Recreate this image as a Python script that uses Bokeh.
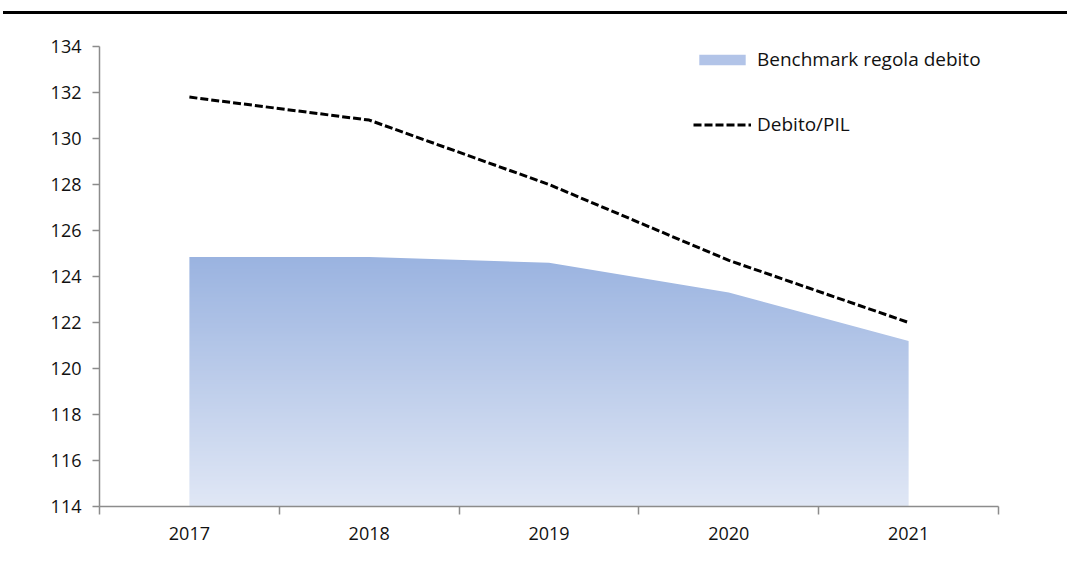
import numpy as np
from bokeh.plotting import figure
from bokeh.models import FixedTicker, Legend, LegendItem, Div
from bokeh.layouts import column
from bokeh.embed import file_html
from bokeh.resources import INLINE

# ---- data ----
years = ["2017", "2018", "2019", "2020", "2021"]
benchmark = [124.85, 124.85, 124.6, 123.3, 121.2]     # Benchmark regola debito
debito_pil = [131.8, 130.8, 128.0, 124.7, 122.0]      # Debito/PIL
y_ticks = [114, 116, 118, 120, 122, 124, 126, 128, 130, 132, 134]

FONT = "Open Sans"
AXIS_COL = "#8c8c8c"
TXT_COL = "#111111"

x = np.arange(len(years))
y_min, y_max = y_ticks[0], y_ticks[-1]

p = figure(width=1067, height=571, x_range=(-0.5, len(years) - 0.5),
           y_range=(y_min, y_max), output_backend="svg", toolbar_location=None,
           min_border_left=99, min_border_right=69, min_border_top=32,
           min_border_bottom=79)
p.outline_line_color = None
p.xgrid.visible = False
p.ygrid.visible = False
p.background_fill_color = "white"
p.border_fill_color = "white"

# ---- gradient area (image clipped by a white mask above the benchmark curve) ----
top_val = max(benchmark)
n = 256
top_rgb = np.array([0x9A, 0xB3, 0xE0], dtype=float)
bot_rgb = np.array([0xE0, 0xE7, 0xF5], dtype=float)
img = np.empty((n, 1), dtype=np.uint32)
view = img.view(dtype=np.uint8).reshape((n, 1, 4))
t = np.linspace(0, 1, n)
for c in range(3):
    view[:, 0, c] = np.round(bot_rgb[c] + (top_rgb[c] - bot_rgb[c]) * t).astype(np.uint8)
view[:, 0, 3] = 255
p.image_rgba(image=[img], x=x[0], y=y_min, dw=x[-1] - x[0], dh=top_val - y_min)

eps = 0.02
mask_x = np.concatenate([[x[0] - eps], x, [x[-1] + eps]])
mask_y1 = np.concatenate([[benchmark[0]], benchmark, [benchmark[-1]]])
mask_y2 = np.full(len(mask_x), top_val + 0.05)
p.varea(x=mask_x, y1=mask_y1, y2=mask_y2, fill_color="white")

# legend proxy for area (zero-size quad at the axis corner, only used by the legend)
area_proxy = p.quad(left=[x[0]], right=[x[0]], top=[y_min], bottom=[y_min],
                    fill_color="#B2C4E8", line_color=None)

# ---- dashed line ----
line_r = p.line(x, debito_pil, line_color="black", line_width=3, line_dash="8 3")

# ---- axes ----
yax = p.yaxis[0]
yax.ticker = FixedTicker(ticks=y_ticks)
yax.axis_line_color = AXIS_COL
yax.axis_line_width = 1.5
yax.major_tick_line_color = AXIS_COL
yax.major_tick_line_width = 1.5
yax.major_tick_out = 7
yax.major_tick_in = 0
yax.minor_tick_out = 0
yax.minor_tick_in = 0
yax.major_label_text_font = FONT
yax.major_label_text_font_size = "18px"
yax.major_label_text_color = TXT_COL
yax.major_label_standoff = 11

xax = p.xaxis[0]
xax.ticker = FixedTicker(ticks=[float(i) for i in x],
                         minor_ticks=[i - 0.5 for i in range(len(years) + 1)])
xax.major_label_overrides = {int(i): years[i] for i in x}
xax.axis_line_color = AXIS_COL
xax.axis_line_width = 1.5
xax.major_tick_out = 0
xax.major_tick_in = 0
xax.minor_tick_out = 8
xax.minor_tick_in = 0
xax.minor_tick_line_color = AXIS_COL
xax.minor_tick_line_width = 1.5
xax.major_label_text_font = FONT
xax.major_label_text_font_size = "18px"
xax.major_label_text_color = TXT_COL
xax.major_label_standoff = 12

# ---- legend ----
legend = Legend(items=[LegendItem(label="Benchmark regola debito", renderers=[area_proxy]),
                       LegendItem(label="Debito/PIL", renderers=[line_r])],
                location=(594, 369), orientation="vertical",
                border_line_color=None, background_fill_alpha=0,
                glyph_width=58, glyph_height=13, label_height=26, spacing=39,
                label_standoff=6, padding=0, margin=0,
                label_text_font=FONT, label_text_font_size="19px",
                label_text_color=TXT_COL)
p.add_layout(legend)

top_rule = Div(text="", width=1064, height=11, margin=(0, 0, 0, 3),
               styles={"border-bottom": "3px solid black", "box-sizing": "content-box"})

layout = column(top_rule, p, spacing=0)
open("out.html", "w").write(file_html(layout, INLINE))
